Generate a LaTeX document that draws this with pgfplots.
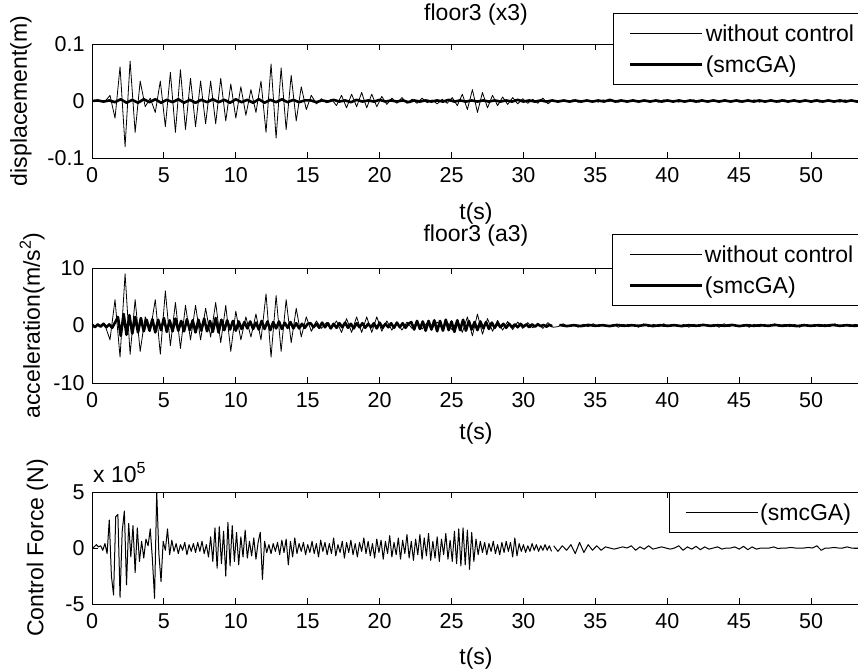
\documentclass[border=0pt]{standalone}
\usepackage{fontspec}
\setmainfont{Liberation Sans}
\usepackage{pgfplots}
\usepackage{pgfplotstable}
\pgfplotsset{compat=1.18}
\newcommand{\fsz}{\fontsize{23}{27}\selectfont}
\newcommand{\tsz}{\fontsize{21.5}{25}\selectfont}

% floor3 displacement, without control (t = 0.2 + 0.35 i)
\pgfplotstableread[row sep=\\]{y\\
0\\0.001\\-0.001\\0.01\\-0.03\\0.06\\-0.08\\0.07\\-0.055\\0.035\\
-0.01\\0.005\\-0.02\\0.035\\-0.045\\0.05\\-0.055\\0.055\\-0.05\\0.04\\
-0.045\\0.035\\-0.04\\0.035\\-0.04\\0.04\\-0.035\\0.03\\-0.03\\0.025\\
-0.025\\0.02\\-0.02\\0.035\\-0.055\\0.065\\-0.065\\0.058\\-0.05\\0.045\\
-0.035\\0.025\\-0.015\\0.01\\-0.005\\0.004\\-0.003\\0.003\\-0.008\\0.01\\
-0.012\\0.012\\-0.01\\0.015\\-0.012\\0.012\\-0.01\\0.008\\-0.006\\0.005\\
-0.004\\0.006\\-0.004\\0.003\\-0.004\\0.005\\-0.003\\0.002\\-0.005\\0.003\\
-0.004\\0.006\\-0.008\\0.012\\-0.015\\0.02\\-0.02\\0.015\\-0.012\\0.01\\
-0.008\\0.007\\-0.006\\0.006\\-0.005\\0.004\\-0.004\\0.003\\-0.004\\0.005\\
-0.005\\0.002\\
-0.002\\0.001\\-0.001\\0.002\\-0.002\\0.001\\-0.001\\0.001\\-0.002\\0.002\\
-0.001\\0.001\\-0.002\\0.001\\-0.001\\0.002\\-0.002\\0.001\\-0.001\\0.001\\
-0.002\\0.002\\-0.001\\0.001\\-0.002\\0.001\\-0.001\\0.002\\-0.002\\0.001\\
-0.001\\0.001\\-0.002\\0.002\\-0.001\\0.001\\-0.002\\0.001\\-0.001\\0.002\\
-0.002\\0.001\\-0.001\\0.001\\-0.002\\0.002\\-0.001\\0.001\\-0.002\\0.001\\
-0.001\\0.002\\-0.002\\0.001\\-0.001\\0.001\\-0.002\\0.002\\-0.001\\0.001\\0\\
}\dispU

% floor3 displacement, smcGA (t = 0.4 k)
\pgfplotstableread[row sep=\\]{y\\
0\\0.001\\-0.001\\0.001\\
-0.002\\0.003\\-0.003\\0.002\\-0.003\\0.003\\-0.002\\0.003\\-0.003\\0.002\\
-0.002\\0.003\\-0.003\\0.002\\-0.003\\0.002\\-0.002\\0.003\\-0.002\\0.002\\
-0.003\\0.003\\-0.002\\0.002\\-0.003\\0.003\\-0.003\\0.002\\-0.002\\0.003\\
-0.002\\0.002\\-0.002\\0.001\\
0.001\\-0.002\\0.001\\-0.001\\0.002\\-0.001\\0.001\\-0.002\\0.002\\-0.001\\
0.001\\-0.001\\0.002\\-0.001\\0.001\\-0.001\\0.001\\-0.002\\0.001\\-0.001\\
0.001\\-0.001\\0.001\\-0.001\\0.002\\-0.001\\0.001\\-0.001\\0.001\\-0.001\\
0.001\\-0.001\\0.001\\-0.001\\0.001\\-0.001\\0.002\\-0.001\\0.001\\-0.001\\
0.001\\-0.001\\0.001\\-0.001\\0.001\\-0.001\\0.001\\-0.001\\0.001\\-0.001\\
0.001\\-0.001\\0.002\\-0.001\\0.001\\-0.001\\0.001\\-0.001\\0.001\\-0.001\\
0.001\\-0.001\\0.001\\-0.001\\0.001\\-0.001\\0.001\\-0.001\\0.001\\-0.001\\
0.001\\-0.001\\0.001\\-0.001\\0.001\\-0.001\\0.001\\-0.001\\0.001\\-0.001\\
0.001\\-0.001\\0.001\\-0.001\\0.001\\-0.001\\0.001\\-0.001\\0.001\\-0.001\\
0.001\\-0.001\\0.001\\-0.001\\0.001\\-0.001\\0\\
}\dispC

% floor3 acceleration, without control (t = 0.2 + 0.35 i)
\pgfplotstableread[row sep=\\]{y\\
0\\-0.1\\0.1\\-2.5\\4.5\\-5.5\\9\\-5\\4.5\\-4.5\\
1.5\\-1\\4.5\\-5\\6\\-3.5\\4\\-4\\3.5\\-2.5\\
3.5\\-2.5\\3\\-2\\4\\-3\\3.5\\-4.5\\2.5\\-2.5\\
1.5\\-2\\2\\-2.5\\5.5\\-5.5\\5.2\\-4.5\\4.5\\-3\\
3\\-2\\1.5\\-1\\0.8\\-0.5\\0.5\\-0.5\\0.8\\-1.2\\
1.2\\-1.2\\1.5\\-1.2\\1.5\\-1.2\\1.5\\-1\\0.8\\-0.8\\
0.6\\-0.8\\0.6\\-0.5\\0.6\\-0.6\\0.5\\-0.5\\0.6\\-0.5\\
0.6\\-0.8\\1\\-1.2\\1.5\\-1.8\\2\\-1.5\\1.2\\-1\\
0.9\\-0.8\\0.7\\-0.7\\0.6\\-0.5\\0.5\\-0.4\\0.4\\-0.5\\
0.5\\-0.3\\
-0.2\\0.3\\-0.2\\0.2\\-0.3\\0.2\\-0.2\\0.3\\-0.2\\0.2\\
-0.2\\0.2\\-0.3\\0.2\\-0.2\\0.2\\-0.3\\0.3\\-0.2\\0.2\\
-0.2\\0.3\\-0.2\\0.2\\-0.2\\0.2\\-0.3\\0.2\\-0.2\\0.2\\
-0.2\\0.2\\-0.3\\0.3\\-0.2\\0.2\\-0.2\\0.2\\-0.3\\0.2\\
-0.2\\0.2\\-0.2\\0.3\\-0.2\\0.2\\-0.2\\0.2\\-0.3\\0.2\\
-0.2\\0.2\\-0.2\\0.2\\-0.2\\0.3\\-0.2\\0.2\\-0.2\\0.2\\0\\
}\accU

% floor3 acceleration, smcGA (t = 0.2 k up to 32 s)
\pgfplotstableread[row sep=\\]{y\\
0.2\\-0.3\\0.2\\-0.2\\0.3\\-0.3\\0.2\\-0.4\\0.5\\
1.5\\-1.8\\2.0\\-1.6\\1.8\\-1.4\\1.5\\-1.2\\1.3\\-1.0\\
1.0\\-0.9\\1.1\\-1.2\\1.0\\-0.8\\1.3\\-1.1\\0.9\\-1.0\\1.2\\-0.9\\0.8\\-1.0\\1.1\\-0.8\\0.9\\
-1.2\\1.0\\-0.9\\1.2\\-1.0\\0.8\\-1.1\\1.3\\-1.2\\1.0\\-0.8\\0.9\\-0.7\\0.8\\-0.9\\0.7\\-0.6\\
0.6\\-0.5\\0.7\\-0.6\\0.5\\-0.7\\0.8\\-0.6\\0.7\\-0.8\\0.6\\-0.5\\0.7\\-0.6\\0.5\\-0.4\\
0.6\\-0.5\\0.4\\-0.5\\0.3\\-0.4\\0.3\\
0.4\\-0.3\\0.3\\-0.4\\0.5\\-0.3\\0.4\\-0.5\\0.3\\-0.4\\0.4\\-0.3\\0.5\\-0.4\\0.3\\-0.5\\
0.4\\-0.3\\0.4\\-0.4\\0.3\\-0.3\\0.4\\-0.5\\0.5\\-0.4\\0.3\\-0.3\\0.4\\-0.4\\0.5\\-0.3\\
0.4\\-0.4\\0.3\\
0.6\\-0.7\\0.8\\-0.6\\0.7\\-0.9\\0.8\\-0.7\\0.9\\-1.0\\0.8\\-0.9\\1.0\\-0.8\\0.7\\-1.1\\
0.9\\-0.8\\1.0\\-0.9\\0.8\\-0.7\\0.6\\-0.8\\0.7\\-0.5\\0.6\\-0.6\\0.5\\-0.4\\
0.4\\-0.3\\0.3\\-0.4\\0.3\\-0.3\\0.2\\-0.3\\0.3\\-0.2\\0.2\\-0.3\\0.2\\-0.2\\0.2\\-0.1\\
0.1\\-0.2\\0.1\\-0.1\\
}\accC

% acceleration, smcGA, tail (t = 32.5 + 0.5 j)
\pgfplotstableread[row sep=\\]{y\\
0.1\\-0.1\\0.05\\-0.1\\0.1\\-0.05\\0.05\\-0.1\\0.1\\-0.05\\
0.05\\-0.05\\0.1\\-0.1\\0.05\\-0.05\\0.05\\-0.1\\0.05\\-0.05\\
0.1\\-0.05\\0.05\\-0.05\\0.1\\-0.1\\0.05\\-0.05\\0.05\\-0.05\\
0.1\\-0.05\\0.05\\-0.1\\0.05\\-0.05\\0.05\\-0.05\\0.1\\-0.05\\
0.05\\-0.05\\0\\
}\accCtail

% control force x 1e5 (t = 0.15 k up to 32 s)
\pgfplotstableread[row sep=\\]{y\\
0\\0.1\\0.3\\0.1\\0.2\\-0.2\\0.4\\-0.5\\2.5\\-2.5\\
-4.2\\2.8\\3.0\\-4.4\\1.5\\3.3\\-3.3\\2.2\\-0.8\\2.0\\
-2.2\\1.8\\-1.2\\0.6\\-0.9\\0.8\\0.2\\1.7\\-1.0\\-4.5\\
5.0\\-0.5\\-3.0\\0.6\\-0.2\\1.7\\-0.6\\0.7\\-0.3\\0.4\\
-0.5\\0.3\\-0.2\\0.5\\-0.6\\0.3\\-0.3\\0.4\\-0.4\\0.5\\
-0.3\\0.6\\-0.5\\0.3\\-0.8\\1.0\\-1.2\\1.8\\-1.8\\1.9\\
-1.4\\1.5\\-2.5\\2.3\\-1.6\\2.0\\-1.2\\1.4\\-1.5\\1.0\\
-0.8\\1.6\\-0.9\\0.6\\-0.7\\0.9\\-1.0\\0.5\\1.4\\-2.8\\
0.6\\-0.4\\0.3\\-0.5\\0.4\\-0.3\\0.5\\-0.6\\0.7\\-0.4\\
0.8\\-1.5\\0.6\\-0.8\\0.9\\-0.5\\0.4\\-0.3\\0.5\\-0.6\\
0.3\\-0.4\\0.6\\-0.5\\0.4\\-0.8\\0.7\\-0.3\\0.5\\-0.6\\
0.4\\-0.5\\0.9\\-0.7\\0.3\\-0.4\\0.6\\-0.9\\0.5\\-0.4\\
0.7\\-0.6\\0.4\\-0.8\\0.5\\-0.3\\0.9\\-0.5\\0.6\\-0.7\\
0.4\\-0.9\\0.8\\-0.4\\0.7\\-1.0\\0.6\\-0.5\\1.1\\-0.8\\
0.5\\-0.6\\0.9\\-1.0\\0.7\\-0.5\\1.2\\-0.9\\0.6\\-1.1\\
0.8\\-0.6\\1.2\\-1.0\\0.9\\-0.7\\1.3\\-1.1\\0.6\\-0.9\\
1.0\\-1.2\\0.8\\-0.6\\1.3\\-1.0\\0.7\\-1.2\\1.5\\-1.4\\
1.7\\-1.6\\1.8\\-1.5\\1.6\\-1.9\\1.4\\-1.2\\0.8\\-0.6\\
0.6\\-0.4\\0.5\\-0.6\\0.4\\-0.3\\0.6\\-0.5\\0.3\\-0.6\\
0.5\\-0.4\\0.6\\-0.3\\0.5\\-0.8\\0.9\\-0.7\\0.4\\-0.3\\
0.3\\-0.4\\0.2\\-0.3\\0.4\\-0.2\\0.3\\-0.3\\0.2\\-0.2\\
0.3\\-0.2\\0.2\\-0.3\\
}\cf

% control force x 1e5, tail (t = 32.1 + 0.3 j)
\pgfplotstableread[row sep=\\]{y\\
0.2\\-0.3\\0.2\\-0.2\\0.3\\-0.5\\0.5\\-0.4\\0.3\\-0.2\\
0.2\\-0.2\\0.1\\0\\-0.1\\0\\0.1\\0\\0.2\\-0.2\\
0.1\\-0.1\\0.2\\-0.1\\0\\0.1\\0\\-0.1\\0\\0.2\\
-0.2\\0.1\\-0.1\\0.15\\-0.15\\0.1\\-0.1\\0\\0.1\\-0.1\\
0\\0\\0.1\\-0.1\\0.15\\-0.15\\0.1\\-0.1\\0\\0\\
0\\0.1\\-0.05\\0\\0\\0.05\\0\\0\\0\\0.05\\
0\\0.2\\-0.2\\0\\0\\0.05\\0\\0\\0.1\\0\\0\\0\\
}\cftail

\pgfplotsset{
  mat/.style={
    scale only axis, width=768pt,
    xmin=0, xmax=53.4, xtick={0,5,...,50},
    tick align=inside, major tick length=6pt,
    axis line style={line width=0.9pt},
    every tick/.style={black, line width=0.9pt},
    tick label style={font=\tsz},
    label style={font=\fsz},
    title style={font=\fsz, anchor=center},
    xlabel={t(s)},
    /pgf/number format/assume math mode=true,
    scaled y ticks=false,
    xticklabel style={yshift=-6pt},
    yticklabel style={xshift=-4pt},
    clip mode=individual,
    legend cell align=left,
    legend style={font=\fsz, draw=black, line width=0.9pt, fill=white,
      anchor=north west, inner xsep=16pt, inner ysep=9pt, row sep=9pt},
    legend image code/.code={\draw[##1] (0pt,0pt) -- (72pt,0pt);},
  },
  uctl/.style={black, line width=0.8pt, line join=round},
  ctl/.style={black, line width=2.6pt, line join=round},
}

\begin{document}
\begin{tikzpicture}
\useasboundingbox (0,0) rectangle (858pt,-670pt);
\clip (0,0) rectangle (858pt,-670pt);

\begin{axis}[mat, at={(92pt,-44pt)}, anchor=north west, height=114pt,
  ymin=-0.1, ymax=0.1, ytick={-0.1,0,0.1}, yticklabels={-0.1,0,0.1},
  title={floor3 (x3)},
  title style={at={(axis description cs:0.5,1.205)}},
  ylabel={displacement(m)},
  ylabel style={at={(axis description cs:-0.0924,0.5)}, anchor=center},
  xlabel style={at={(axis description cs:0.5,-0.49)}, anchor=center},
  legend style={at={(axis description cs:0.678,1.272)}}]
\addplot[uctl] table[x expr=\coordindex*0.35+0.2, y=y] {\dispU};
\addlegendentry{without control}
\addplot[ctl] table[x expr=\coordindex*0.4, y=y] {\dispC};
\addlegendentry{(smcGA)}
\end{axis}

\begin{axis}[mat, at={(92pt,-268pt)}, anchor=north west, height=115pt,
  ymin=-10, ymax=10, ytick={-10,0,10}, yticklabels={-10,0,10},
  title={floor3 (a3)},
  title style={at={(axis description cs:0.5,1.228)}},
  ylabel={acceleration(m/s\textsuperscript{2})},
  ylabel style={at={(axis description cs:-0.078,0.5)}, anchor=center},
  xlabel style={at={(axis description cs:0.5,-0.44)}, anchor=center},
  legend style={at={(axis description cs:0.677,1.296)}}]
\addplot[uctl] table[x expr=\coordindex*0.35+0.2, y=y] {\accU};
\addlegendentry{without control}
\addplot[ctl] table[x expr=\coordindex*0.2, y=y] {\accC};
\addlegendentry{(smcGA)}
\addplot[ctl, forget plot] table[x expr=\coordindex*0.5+32.5, y=y] {\accCtail};
\end{axis}

\begin{axis}[mat, at={(92pt,-492pt)}, anchor=north west, height=112pt,
  ymin=-5, ymax=5, ytick={-5,0,5}, yticklabels={-5,0,5},
  ylabel={Control Force (N)},
  ylabel style={at={(axis description cs:-0.071,0.5)}, anchor=center},
  xlabel style={at={(axis description cs:0.5,-0.49)}, anchor=center},
  legend style={at={(axis description cs:0.751,1.0)}}]
\addplot[black, line width=1pt, line join=round] table[x expr=\coordindex*0.15, y=y] {\cf};
\addlegendentry{(smcGA)}
\addplot[black, line width=1pt, line join=round, forget plot] table[x expr=\coordindex*0.3+32.1, y=y] {\cftail};
\node[anchor=base west, font=\fsz, inner sep=0pt] at (axis description cs:0.0013,1.089) {x 10\textsuperscript{5}};
\end{axis}
\end{tikzpicture}
\end{document}
